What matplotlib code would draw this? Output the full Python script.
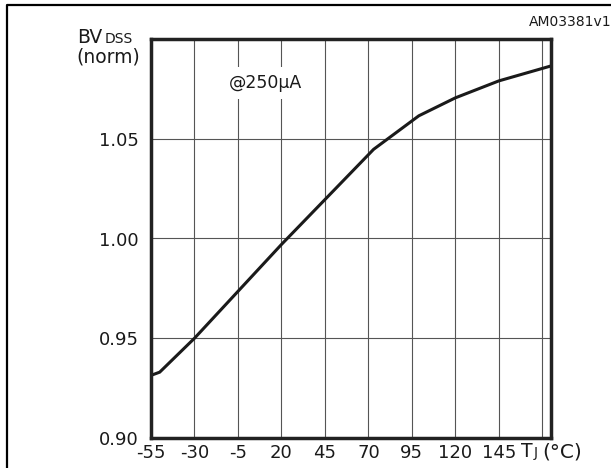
import matplotlib
matplotlib.use("Agg")
import matplotlib.pyplot as plt
from matplotlib.lines import Line2D

# curve, Tj in degC vs normalised BVdss
tj = [-55, -50, -30, 20, 45, 73, 99, 120, 145, 175]
bv_norm = [0.9314, 0.933, 0.95, 0.997, 1.0195, 1.0447, 1.0615, 1.0705, 1.079, 1.0865]

x_ticks = [-55, -30, -5, 20, 45, 70, 95, 120, 145]
x_grid = [-30, -5, 20, 45, 70, 95, 120, 145, 170]
y_ticks = [0.90, 0.95, 1.00, 1.05]
y_labels = ["0.90", "0.95", "1.00", "1.05"]

W, H = 611, 468
fig = plt.figure(figsize=(W / 100, H / 100), dpi=100)
ax = fig.add_axes([151 / W, 1 - 438 / H, 400 / W, 399 / H])

for x in x_grid:
    ax.axvline(x, color="#555555", lw=0.8, zorder=1)
for y in [0.95, 1.00, 1.05]:
    ax.axhline(y, color="#555555", lw=0.8, zorder=1)

ax.plot(tj, bv_norm, color="#1a1a1a", lw=2.2, zorder=3, solid_joinstyle="miter")

ax.set_xlim(-55, 175)
ax.set_ylim(0.90, 1.10)
ax.set_xticks(x_ticks)
ax.set_xticklabels([str(v) for v in x_ticks])
ax.set_yticks(y_ticks)
ax.set_yticklabels(y_labels)
ax.tick_params(length=0, labelsize=13, colors="#1a1a1a")
ax.tick_params(axis="x", pad=4)
ax.tick_params(axis="y", pad=9)
for s in ax.spines.values():
    s.set_linewidth(2.5)
    s.set_color("#222222")
    s.set_zorder(4)

# @250uA note with white box that breaks the grid lines
ax.text((266 - 151) / 400, 1 - (83 - 39) / 399, "@250\u00b5A", transform=ax.transAxes,
        ha="center", va="center", fontsize=12.5, color="#1a1a1a", zorder=2,
        bbox=dict(facecolor="white", edgecolor="none", pad=5))

def fx(px):
    return px / W

def fy(py):
    return 1 - py / H

# y axis title
fig.text(fx(77), fy(43), "BV", fontsize=13.5, va="baseline", ha="left", color="#1a1a1a")
fig.text(fx(105), fy(43), "DSS", fontsize=10, va="baseline", ha="left", color="#1a1a1a")
fig.text(fx(76), fy(57), "(norm)", fontsize=13.5, va="center", ha="left", color="#1a1a1a")

# x axis title
fig.text(fx(521), fy(457), "T", fontsize=13.5, va="baseline", ha="left", color="#1a1a1a")
fig.text(fx(534), fy(457), "J", fontsize=10, va="baseline", ha="left", color="#1a1a1a")
fig.text(fx(542), fy(452), "(\u00b0C)", fontsize=14.5, va="center", ha="left", color="#1a1a1a")

fig.text(fx(529), fy(22), "AM03381v1", fontsize=10, va="center", ha="left", color="#1a1a1a")

# outer frame, cut off at right and bottom
fig.add_artist(Line2D([fx(7), fx(7), 1.01], [-0.01, fy(5), fy(5)], color="black", lw=1.6,
                      transform=fig.transFigure))

fig.savefig("out.png", dpi=100)
